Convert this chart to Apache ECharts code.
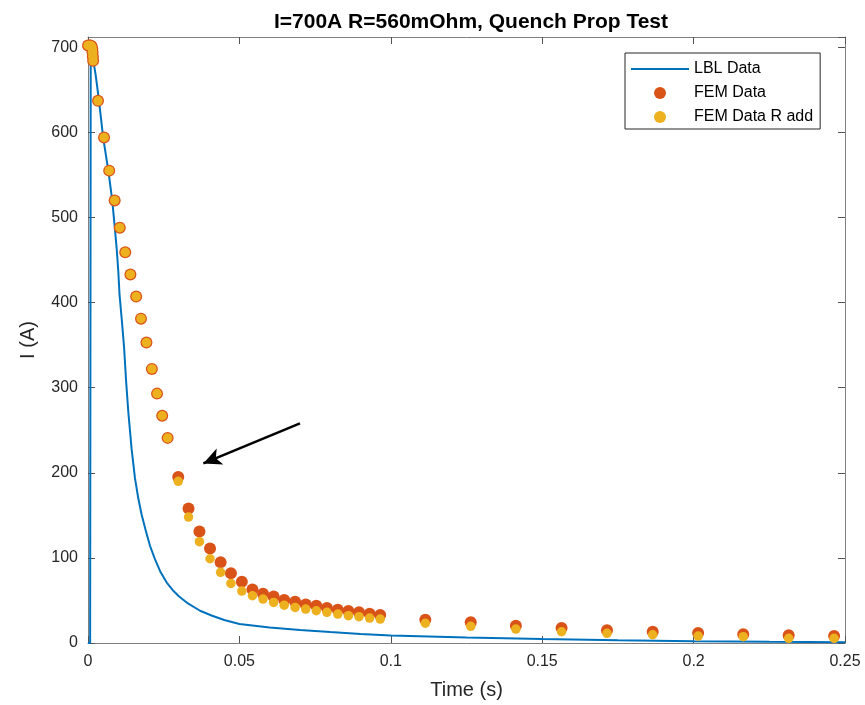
<!DOCTYPE html>
<html>
<head>
<meta charset="utf-8">
<script src="https://cdn.jsdelivr.net/npm/echarts@6/dist/echarts.min.js"></script>
<style>
  html, body { margin: 0; padding: 0; background: #fff; }
  #chart { width: 865px; height: 705px; }
</style>
</head>
<body>
<div id="chart"></div>
<script>
// LBL model current trace
const lblTime = [0, 0.0007, 0.0009, 0.0014, 0.0025, 0.0036, 0.0050, 0.0068, 0.0080, 0.0088, 0.0095, 0.0100, 0.0104,
  0.0112, 0.0119, 0.0126, 0.0133, 0.0144, 0.0155, 0.0166, 0.0177, 0.0190, 0.0205, 0.0221, 0.0240, 0.0260, 0.0280,
  0.0300, 0.0330, 0.0370, 0.0410, 0.0450, 0.0500, 0.0600, 0.0700, 0.0800, 0.0900, 0.1000, 0.1250, 0.1500, 0.1750,
  0.2000, 0.2250, 0.2500];
const lblCurrent = [0, 0, 702, 700, 668, 638, 594, 553, 520, 490, 462, 437, 410,
  378, 348, 307, 272, 228, 194, 170, 151, 133, 114, 98.5, 83, 71, 62,
  55, 46.5, 37.9, 32, 27, 22.3, 18.2, 15.3, 12.8, 10.6, 8.7, 6.4, 4.7, 3.2,
  2.2, 1.4, 0.8];

// FEM simulation samples
const femTime = [0, 0.0004, 0.0008, 0.0012, 0.0014, 0.0015, 0.0016, 0.0017,
  0.0033, 0.0053, 0.0070, 0.0088, 0.0105, 0.0123, 0.0140, 0.0159, 0.0175, 0.0193, 0.0211, 0.0228, 0.0245, 0.0263,
  0.0298, 0.0332, 0.0368, 0.0403, 0.0438, 0.0472, 0.0508, 0.0543, 0.0578, 0.0613, 0.0648, 0.0684, 0.0719, 0.0754,
  0.0789, 0.0825, 0.0860, 0.0895, 0.0930, 0.0965,
  0.1114, 0.1264, 0.1413, 0.1564, 0.1714, 0.1865, 0.2015, 0.2164, 0.2314, 0.2464];
const femCurrent = [702, 702, 702, 701, 698, 694, 689, 684,
  637, 594, 555, 520, 488, 459, 433, 407, 381, 353, 322, 293, 267, 241,
  195, 158, 131, 111, 95, 82, 72, 63, 58, 54.7, 50.4, 48.4, 45.3, 43.7,
  41, 39, 37.5, 36, 34.4, 32.8,
  27.4, 24.3, 20.3, 17.6, 14.9, 13.2, 11.7, 10.2, 9.0, 8.2];
const femRaddCurrent = [702, 702, 702, 701, 698, 694, 689, 684,
  637, 594, 555, 520, 488, 459, 433, 407, 381, 353, 322, 293, 267, 241,
  190, 148, 119, 99, 83, 70, 61, 55.5, 51.6, 47.7, 44.5, 41.8, 39.9, 37.9,
  36, 34, 32.1, 30.9, 29.3, 28.1,
  23.2, 19.6, 16.4, 13.2, 11.4, 9.7, 8.2, 7.4, 5.5, 5.5];

// Axis settings
const xTicks = [0, 0.05, 0.1, 0.15, 0.2, 0.25];
const yTicks = [0, 100, 200, 300, 400, 500, 600, 700];
const yMax = 712;

// Annotation arrow (data coordinates: tail, head)
const arrowFrom = [0.0700, 258];
const arrowTo = [0.0381, 211];

const pair = (xs, ys) => xs.map((x, i) => [x, ys[i]]);

const FONT = '"Liberation Sans", Arial, Helvetica, sans-serif';
const axisColor = '#808080';
const textColor = '#262626';

const chart = echarts.init(document.getElementById('chart'), null, { renderer: 'canvas' });

const baseX = {
  type: 'value', min: xTicks[0], max: xTicks[xTicks.length - 1], interval: 0.05,
  splitLine: { show: false },
  axisLine: { show: true, onZero: false, lineStyle: { color: axisColor, width: 1 } },
  axisTick: { show: true, inside: true, length: 7, lineStyle: { color: '#555' } }
};
const baseY = {
  type: 'value', min: 0, max: yMax, interval: 100,
  splitLine: { show: false },
  axisLine: { show: true, onZero: false, lineStyle: { color: axisColor, width: 1 } },
  axisTick: { show: true, inside: true, length: 7, lineStyle: { color: '#555' } }
};

chart.setOption({
  animation: false,
  backgroundColor: '#fff',
  title: {
    text: 'I=700A R=560mOhm, Quench Prop Test',
    left: 466, top: 7, textAlign: 'center',
    textStyle: { fontFamily: FONT, fontSize: 21, fontWeight: 'bold', color: '#000' }
  },
  grid: { left: 88, right: 20, top: 37, bottom: 61, containLabel: false },
  legend: {
    orient: 'vertical', left: 625, top: 53,
    padding: [8, 7, 4, 6], itemGap: 8, itemWidth: 58, itemHeight: 12,
    backgroundColor: '#fff', borderColor: '#262626', borderWidth: 1,
    textStyle: { fontFamily: FONT, fontSize: 16, color: '#000' },
    data: [
      { name: 'LBL Data', icon: 'path://M0,0 L58,0 L58,2 L0,2 Z', itemStyle: { color: '#0072BD' } },
      { name: 'FEM Data', icon: 'circle' },
      { name: 'FEM Data R add', icon: 'circle' }
    ]
  },
  xAxis: [
    Object.assign({}, baseX, {
      position: 'bottom',
      name: 'Time (s)', nameLocation: 'middle', nameGap: 37,
      nameTextStyle: { fontFamily: FONT, fontSize: 20, color: textColor },
      axisLabel: {
        margin: 11, fontFamily: FONT, fontSize: 16, color: textColor,
        formatter: v => xTicks.includes(+v.toFixed(4)) ? String(+v.toFixed(4)) : ''
      }
    }),
    Object.assign({}, baseX, { position: 'top', axisLabel: { show: false } })
  ],
  yAxis: [
    Object.assign({}, baseY, {
      position: 'left',
      name: 'I (A)', nameLocation: 'middle', nameGap: 50,
      nameTextStyle: { fontFamily: FONT, fontSize: 20, color: textColor },
      axisLabel: {
        margin: 10, fontFamily: FONT, fontSize: 16, color: textColor, showMaxLabel: false,
        formatter: v => yTicks.includes(v) ? String(v) : ''
      }
    }),
    Object.assign({}, baseY, { position: 'right', axisLabel: { show: false } })
  ],
  series: [
    {
      name: 'LBL Data', type: 'line', xAxisIndex: 0, yAxisIndex: 0,
      data: pair(lblTime, lblCurrent),
      symbol: 'none', smooth: false,
      lineStyle: { color: '#0072BD', width: 2 },
      itemStyle: { color: '#0072BD' },
      z: 2
    },
    {
      name: 'FEM Data', type: 'scatter', xAxisIndex: 0, yAxisIndex: 0,
      data: pair(femTime, femCurrent),
      symbol: 'circle', symbolSize: 12,
      itemStyle: { color: '#D95319', opacity: 1 },
      z: 3,
      markLine: {
        silent: true, animation: false,
        symbol: ['none', 'arrow'], symbolSize: [13, 18],
        label: { show: false },
        lineStyle: { color: '#000', width: 2.5, type: 'solid' },
        data: [[{ coord: arrowFrom }, { coord: arrowTo }]]
      }
    },
    {
      name: 'FEM Data R add', type: 'scatter', xAxisIndex: 0, yAxisIndex: 0,
      data: pair(femTime, femRaddCurrent),
      symbol: 'circle', symbolSize: 9.5,
      itemStyle: { color: '#EDB120', opacity: 1 },
      z: 4
    }
  ]
});
</script>
</body>
</html>
